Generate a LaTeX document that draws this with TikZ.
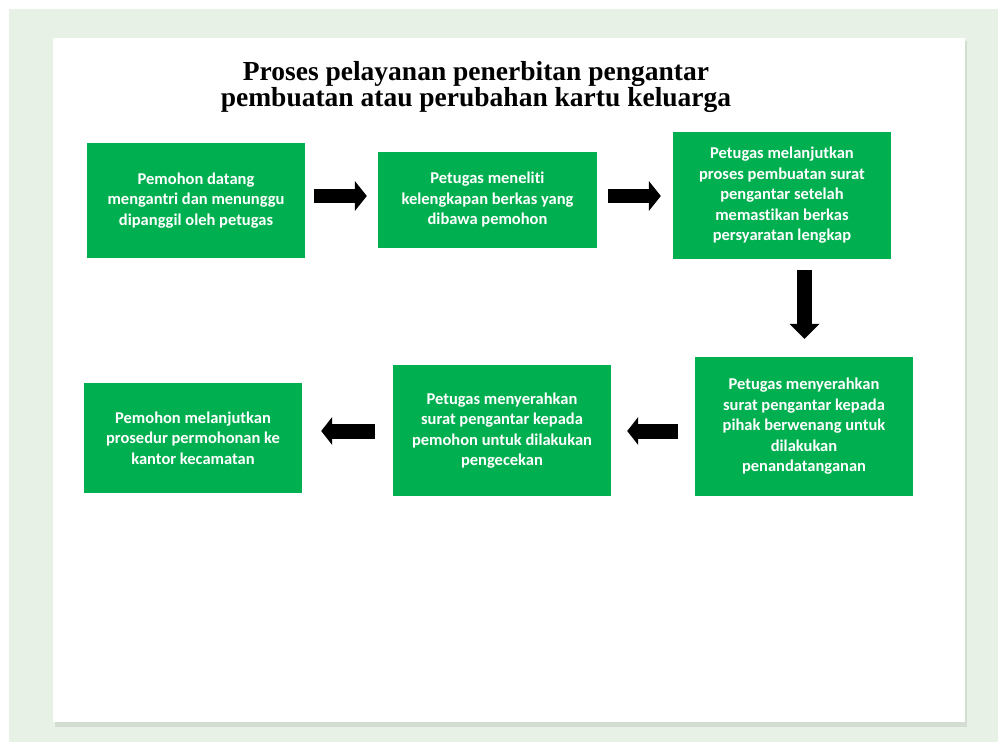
\documentclass[tikz,border=0pt]{standalone}
\usepackage{fontspec}
\setmainfont{Carlito}[Ligatures=NoCommon]
\newfontfamily\titlefont{Liberation Serif}
\usetikzlibrary{arrows.meta,calc}
\definecolor{boxgreen}{HTML}{00B050}
\definecolor{bggreen}{HTML}{E7F1E5}
\definecolor{shadowgreen}{HTML}{D3DDD1}
\begin{document}
\begin{tikzpicture}[x=1pt,y=-1pt,
  stepbox/.style={fill=boxgreen, text=white, font=\bfseries\fontsize{16.5}{20.5}\selectfont, align=center, inner sep=0pt},
  rarrow/.style={line width=14pt, black, -{Triangle[width=30pt,length=12pt,line width=0pt]}},
  darrow/.style={line width=15pt, black, -{Triangle[width=30pt,length=15pt,line width=0pt]}},
  larrow/.style={line width=15pt, black, -{Triangle[width=28pt,length=11pt,line width=0pt]}}
]
\useasboundingbox (0,0) rectangle (998,742);
% background
\fill[white] (0,0) rectangle (998,742);
\fill[bggreen] (9,9) rectangle (998,742);
% panel with shadow
\fill[shadowgreen] (55,41) rectangle (967,727);
\fill[white] (53,38) rectangle (965,722);
% title
\node[font=\titlefont\bfseries\fontsize{27.5}{26.5}\selectfont, align=center, inner sep=0pt] (title) at (476,87)
  {Proses pelayanan penerbitan pengantar\\pembuatan atau perubahan kartu keluarga};
% steps
\node[stepbox, minimum width=218pt, minimum height=115pt] (b1) at (196,200.5)
  {Pemohon datang\\mengantri dan menunggu\\dipanggil oleh petugas};
\node[stepbox, minimum width=219pt, minimum height=96pt] (b2) at (487.5,200)
  {Petugas meneliti\\kelengkapan berkas yang\\dibawa pemohon};
\node[stepbox, minimum width=218pt, minimum height=127pt] (b3) at (782,195.5)
  {Petugas melanjutkan\\proses pembuatan surat\\pengantar setelah\\memastikan berkas\\persyaratan lengkap};
\node[stepbox, minimum width=218pt, minimum height=139pt] (b4) at (804,426.5)
  {Petugas menyerahkan\\surat pengantar kepada\\pihak berwenang untuk\\dilakukan\\penandatanganan};
\node[stepbox, minimum width=218pt, minimum height=131pt] (b5) at (502,430.5)
  {Petugas menyerahkan\\surat pengantar kepada\\pemohon untuk dilakukan\\pengecekan};
\node[stepbox, minimum width=218pt, minimum height=110pt] (b6) at (193,438)
  {Pemohon melanjutkan\\prosedur permohonan ke\\kantor kecamatan};
% arrows
\draw[rarrow] ($(b1.east)+(9,-4.5)$) -- ($(b2.west)+(-11,-4)$);
\draw[rarrow] ($(b2.east)+(11,-4)$) -- ($(b3.west)+(-12,0.5)$);
\draw[darrow] ($(b3.south)+(22.5,11)$) -- ($(b4.north)+(0.5,-18)$);
\draw[larrow] ($(b4.west)+(-17,4.5)$) -- ($(b5.east)+(16,0.5)$);
\draw[larrow] ($(b5.west)+(-18,0.5)$) -- ($(b6.east)+(19,-7)$);
\end{tikzpicture}
\end{document}
